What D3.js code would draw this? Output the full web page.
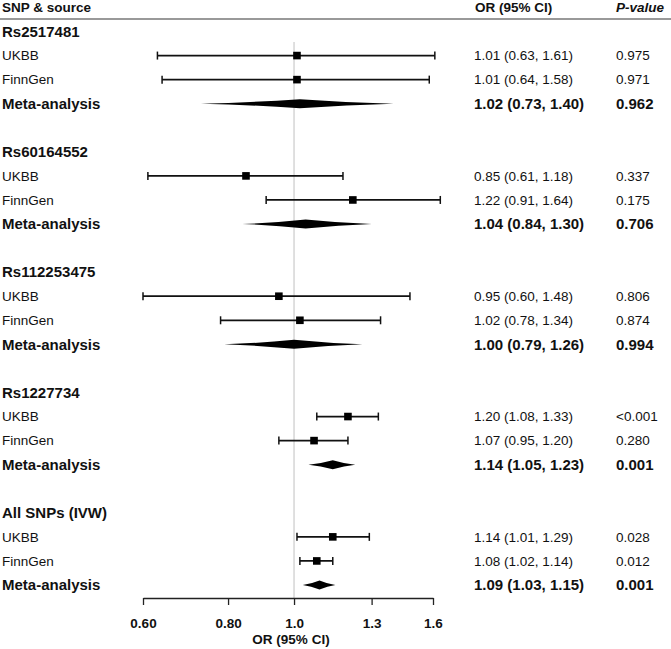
<!DOCTYPE html>
<html>
<head>
<meta charset="utf-8">
<script src="https://cdn.jsdelivr.net/npm/d3@7"></script>
<style>
  body { margin: 0; background: #fff; }
  svg text { font-family: "Liberation Sans", Arial, Helvetica, sans-serif; fill: #111; }
</style>
</head>
<body>
<svg id="chart" width="671" height="649"></svg>
<script>
// data
var snps = ["Rs2517481", "Rs60164552", "Rs112253475", "Rs1227734", "All SNPs (IVW)"];
var sources = ["UKBB", "FinnGen", "Meta-analysis"];
var estimates = [[1.01, 1.01, 1.02], [0.85, 1.22, 1.04], [0.95, 1.02, 1.00], [1.20, 1.07, 1.14], [1.14, 1.08, 1.09]];
var lowers    = [[0.63, 0.64, 0.73], [0.61, 0.91, 0.84], [0.60, 0.78, 0.79], [1.08, 0.95, 1.05], [1.01, 1.02, 1.03]];
var uppers    = [[1.61, 1.58, 1.40], [1.18, 1.64, 1.30], [1.48, 1.34, 1.26], [1.33, 1.20, 1.23], [1.29, 1.14, 1.15]];
var pvalues   = [["0.975", "0.971", "0.962"], ["0.337", "0.175", "0.706"], ["0.806", "0.874", "0.994"],
                 ["<0.001", "0.280", "0.001"], ["0.028", "0.012", "0.001"]];
var tickValues = [0.60, 0.80, 1.0, 1.3, 1.6];
var tickLabels = ["0.60", "0.80", "1.0", "1.3", "1.6"];

var svg = d3.select("#chart");
var W = 671;

var x = d3.scaleLog().domain([0.6, 1.6]).range([143, 433]);
// each snp block = heading + 3 rows + a blank row
var y = d3.scaleLinear().domain([0, 23]).range([31.5, 585]);
var axisY = 598;

var rows = [];
snps.forEach(function(s, g) {
    sources.forEach(function(src, k) {
        rows.push({
            idx: g * 5 + 1 + k,
            label: src,
            est: estimates[g][k],
            lo: lowers[g][k],
            hi: uppers[g][k],
            p: pvalues[g][k],
            meta: k === 2
        });
    });
});
var fmt = d3.format(".2f");

// header
svg.append("line").attr("x1", 0).attr("x2", W).attr("y1", 19).attr("y2", 19)
    .attr("stroke", "#777").attr("stroke-width", 1.3);
svg.append("text").attr("x", 2).attr("y", 7.5).attr("dy", "0.35em")
    .style("font-size", "13.5px").style("font-weight", "bold").text("SNP & source");
svg.append("text").attr("x", 475).attr("y", 7.5).attr("dy", "0.35em")
    .style("font-size", "13.5px").style("font-weight", "bold").text("OR (95% CI)");
svg.append("text").attr("x", 616).attr("y", 7.5).attr("dy", "0.35em")
    .style("font-size", "13.5px").style("font-weight", "bold").style("font-style", "italic").text("P-value");

// reference line at OR = 1
svg.append("line").attr("x1", x(1)).attr("x2", x(1)).attr("y1", 42).attr("y2", axisY)
    .attr("stroke", "#cfcfcf").attr("stroke-width", 1.3);

// snp headings
svg.selectAll(".snp").data(snps).enter().append("text")
    .attr("class", "snp")
    .attr("x", 2)
    .attr("y", function(d, i) { return y(i * 5); })
    .attr("dy", "0.35em")
    .style("font-size", "15px").style("font-weight", "bold")
    .text(function(d) { return d; });

var row = svg.selectAll(".row").data(rows).enter().append("g")
    .attr("class", "row")
    .attr("transform", function(d) { return "translate(0," + y(d.idx) + ")"; });

row.append("text").attr("x", 2).attr("dy", "0.35em")
    .style("font-size", function(d) { return d.meta ? "15px" : "13.5px"; })
    .style("font-weight", function(d) { return d.meta ? "bold" : "normal"; })
    .text(function(d) { return d.label; });

row.append("text").attr("x", 474).attr("dy", "0.35em")
    .style("font-size", function(d) { return d.meta ? "15px" : "13.5px"; })
    .style("font-weight", function(d) { return d.meta ? "bold" : "normal"; })
    .text(function(d) { return fmt(d.est) + " (" + fmt(d.lo) + ", " + fmt(d.hi) + ")"; });

row.append("text").attr("x", 616).attr("dy", "0.35em")
    .style("font-size", function(d) { return d.meta ? "15px" : "13.5px"; })
    .style("font-weight", function(d) { return d.meta ? "bold" : "normal"; })
    .text(function(d) { return d.p; });

// study rows: whisker + caps + square
var study = row.filter(function(d) { return !d.meta; });
study.append("line")
    .attr("x1", function(d) { return x(d.lo); })
    .attr("x2", function(d) { return x(d.hi); })
    .attr("stroke", "#111").attr("stroke-width", 1.8);
study.append("line")
    .attr("x1", function(d) { return x(d.lo); }).attr("x2", function(d) { return x(d.lo); })
    .attr("y1", -4).attr("y2", 4)
    .attr("stroke", "#111").attr("stroke-width", 1.5);
study.append("line")
    .attr("x1", function(d) { return x(d.hi); }).attr("x2", function(d) { return x(d.hi); })
    .attr("y1", -4).attr("y2", 4)
    .attr("stroke", "#111").attr("stroke-width", 1.5);
study.append("rect")
    .attr("x", function(d) { return x(d.est) - 3.8; })
    .attr("y", -3.8).attr("width", 7.6).attr("height", 7.6)
    .attr("fill", "#000");

// meta rows: diamond with slightly pinched sides
var h = 4.5;
row.filter(function(d) { return d.meta; }).append("path")
    .attr("d", function(d) {
        var a = x(d.lo), c = x(d.est), b = x(d.hi);
        var m1 = (a + c) / 2, m2 = (c + b) / 2;
        return "M" + a + ",0" +
            "Q" + m1 + "," + (-h * 0.25) + " " + c + "," + (-h) +
            "Q" + m2 + "," + (-h * 0.25) + " " + b + ",0" +
            "Q" + m2 + "," + (h * 0.25) + " " + c + "," + h +
            "Q" + m1 + "," + (h * 0.25) + " " + a + ",0Z";
    })
    .attr("fill", "#000");

// x axis
var axis = svg.append("g").attr("transform", "translate(0," + axisY + ")")
    .call(d3.axisBottom(x).tickValues(tickValues)
        .tickFormat(function(d, i) { return tickLabels[i]; })
        .tickSize(7).tickSizeOuter(0).tickPadding(13));
axis.select(".domain").attr("stroke", "#222").attr("stroke-width", 1.3);
axis.selectAll(".tick line").attr("stroke", "#222").attr("stroke-width", 1.3);
axis.selectAll(".tick text")
    .style("font-family", "'Liberation Sans', Arial, sans-serif")
    .style("font-size", "13.5px").style("font-weight", "bold").attr("fill", "#111");

svg.append("text").attr("x", 291).attr("y", 644)
    .attr("text-anchor", "middle")
    .style("font-size", "13.5px").style("font-weight", "bold")
    .text("OR (95% CI)");
</script>
</body>
</html>
